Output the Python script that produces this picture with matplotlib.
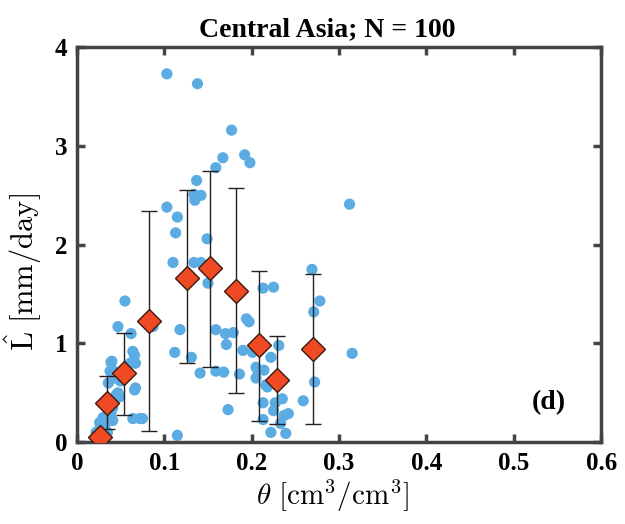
import matplotlib
matplotlib.use("Agg")
import matplotlib.pyplot as plt
import numpy as np

plt.rcParams['mathtext.fontset'] = 'cm'

# scatter data (theta, L)
theta_pts = [0.103, 0.138, 0.177, 0.167, 0.192, 0.198, 0.159, 0.137, 0.134, 0.142,
             0.135, 0.103, 0.115, 0.113, 0.149, 0.312, 0.110, 0.134, 0.142, 0.150,
             0.055, 0.047, 0.062, 0.087, 0.118, 0.159, 0.170, 0.179, 0.171, 0.194,
             0.197, 0.190, 0.112, 0.131, 0.141, 0.159, 0.168, 0.186, 0.173, 0.115,
             0.213, 0.225, 0.201, 0.205, 0.207, 0.214, 0.205, 0.216, 0.218, 0.231,
             0.222, 0.213, 0.227, 0.235, 0.225, 0.237, 0.242, 0.213, 0.233, 0.222,
             0.239, 0.259, 0.269, 0.278, 0.271, 0.272, 0.315,
             0.064, 0.066, 0.067, 0.061, 0.039, 0.041, 0.038, 0.040, 0.066, 0.067,
             0.047, 0.049, 0.045, 0.041, 0.039, 0.064, 0.072, 0.075, 0.030, 0.026,
             0.027, 0.032, 0.041, 0.024, 0.031, 0.035, 0.028, 0.033, 0.036, 0.029,
             0.044, 0.050, 0.022]
L_pts = [3.73, 3.63, 3.16, 2.88, 2.91, 2.83, 2.78, 2.65, 2.51, 2.50,
         2.45, 2.38, 2.28, 2.12, 2.06, 2.41, 1.82, 1.82, 1.82, 1.61,
         1.43, 1.17, 1.10, 1.17, 1.14, 1.14, 1.10, 1.11, 0.99, 1.25,
         1.22, 0.93, 0.91, 0.86, 0.70, 0.72, 0.71, 0.69, 0.33, 0.07,
         1.56, 1.57, 0.91, 0.76, 0.73, 0.73, 0.65, 0.58, 0.56, 0.98,
         0.86, 0.40, 0.40, 0.44, 0.32, 0.27, 0.29, 0.23, 0.19, 0.10,
         0.09, 0.42, 1.75, 1.43, 1.32, 0.61, 0.90,
         0.92, 0.88, 0.80, 0.80, 0.81, 0.73, 0.72, 0.82, 0.53, 0.55,
         0.50, 0.46, 0.48, 0.35, 0.30, 0.24, 0.24, 0.24, 0.25, 0.20,
         0.15, 0.17, 0.22, 0.02, 0.05, 0.10, 0.08, 0.12, 0.60, 0.04,
         0.65, 0.62, 0.10]

# binned means and error bar limits
bin_theta = [0.026, 0.035, 0.054, 0.082, 0.126, 0.152, 0.182, 0.208, 0.229, 0.270]
bin_mean = [0.05, 0.40, 0.70, 1.23, 1.66, 1.76, 1.53, 0.98, 0.63, 0.94]
bin_low = [0.00, 0.13, 0.28, 0.11, 0.80, 0.76, 0.50, 0.22, 0.18, 0.18]
bin_high = [0.10, 0.67, 1.11, 2.34, 2.55, 2.75, 2.57, 1.73, 1.08, 1.70]

x_ticks = [0, 0.1, 0.2, 0.3, 0.4, 0.5, 0.6]
x_ticklabels = ['0', '0.1', '0.2', '0.3', '0.4', '0.5', '0.6']
y_ticks = [0, 1, 2, 3, 4]
y_ticklabels = ['0', '1', '2', '3', '4']

fig = plt.figure(figsize=(6.25, 5.24), dpi=100)
ax = fig.add_axes([0.123, 0.156, 0.839, 0.754])

ax.scatter(theta_pts, L_pts, s=65, color='#5aace2', edgecolors='none', zorder=2)

bm = np.array(bin_mean)
yerr = [bm - np.array(bin_low), np.array(bin_high) - bm]
ax.errorbar(bin_theta, bin_mean, yerr=yerr, fmt='none', ecolor='#222222',
            elinewidth=1.0, capsize=6, capthick=1.0, zorder=3)
ax.plot(bin_theta, bin_mean, linestyle='none', marker='D', markersize=12,
        markerfacecolor='#f04a24', markeredgecolor='#3a1a10', markeredgewidth=1.0, zorder=4)

ax.set_xlim(0, 0.6)
ax.set_ylim(0, 4)
ax.set_xticks(x_ticks)
ax.set_xticklabels(x_ticklabels)
ax.set_yticks(y_ticks)
ax.set_yticklabels(y_ticklabels)

for sp in ax.spines.values():
    sp.set_linewidth(2.5)
    sp.set_color('#444444')
ax.tick_params(direction='in', length=6, width=2.5, color='#444444',
               top=True, right=True, labelsize=18, pad=7)
for lbl in ax.get_xticklabels() + ax.get_yticklabels():
    lbl.set_fontfamily('Liberation Serif')
    lbl.set_fontweight('bold')

ax.set_title('Central Asia; N = 100', fontfamily='Liberation Serif', fontweight='bold',
             fontsize=20, pad=8, x=0.478)
ax.set_xlabel(r'$\theta\ [\mathrm{cm}^3/\mathrm{cm}^3]$', fontsize=21, labelpad=0)
ax.xaxis.set_label_coords(0.488, -0.09)
ax.set_ylabel(r'$\hat{\mathrm{L}}\ [\mathrm{mm/day}]$', fontsize=22, labelpad=2)
ax.yaxis.set_label_coords(-0.062, 0.43)

ax.text(0.54, 0.40, '(d)', fontfamily='Liberation Serif', fontweight='bold',
        fontsize=20, ha='center', va='center')

fig.savefig('out.png', dpi=100)
